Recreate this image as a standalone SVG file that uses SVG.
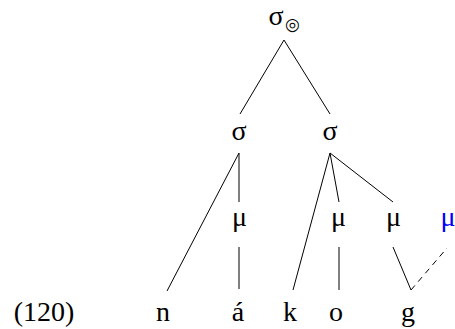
<svg xmlns="http://www.w3.org/2000/svg" width="455" height="329" viewBox="0 0 455 329">
<style>
text{font-family:"Liberation Serif","Times New Roman",serif;font-size:28px;fill:#000;text-anchor:middle}
.b{fill:#0000ff}
.s{font-size:17px}
line{stroke:#000;stroke-width:1}
.d{stroke-dasharray:6,5}
</style>
<rect width="455" height="329" fill="#fff"/>
<g id="connectors">
<line x1="284" y1="40" x2="240" y2="114"/>
<line x1="284" y1="40" x2="330" y2="114"/>
<line x1="239" y1="153" x2="167" y2="291"/>
<line x1="239" y1="153" x2="239" y2="202"/>
<line x1="330" y1="153" x2="293" y2="290"/>
<line x1="330" y1="153" x2="339" y2="202"/>
<line x1="330" y1="153" x2="393" y2="202"/>
<line x1="239" y1="247" x2="239" y2="289"/>
<line x1="339" y1="247" x2="339" y2="290"/>
<line x1="393" y1="247" x2="411" y2="290"/>
<line class="d" x1="411" y1="290" x2="447" y2="248"/>
</g>
<g id="root"><text x="276" y="25">σ</text><text class="s" x="292.5" y="30">◎</text></g>
<g id="sigma1"><text x="239" y="140">σ</text></g>
<g id="sigma2"><text x="330" y="140">σ</text></g>
<g id="mu1"><text x="239.5" y="226">μ</text></g>
<g id="mu2"><text x="338.5" y="226">μ</text></g>
<g id="mu3"><text x="393.5" y="226">μ</text></g>
<g id="mu4"><text class="b" x="448" y="226">μ</text></g>
<g id="label"><text x="44" y="321">(120)</text></g>
<g id="n"><text x="163" y="321">n</text></g>
<g id="a"><text x="238" y="321">á</text></g>
<g id="k"><text x="290" y="321">k</text></g>
<g id="o"><text x="336" y="321">o</text></g>
<g id="g"><text x="408" y="321">g</text></g>
</svg>
